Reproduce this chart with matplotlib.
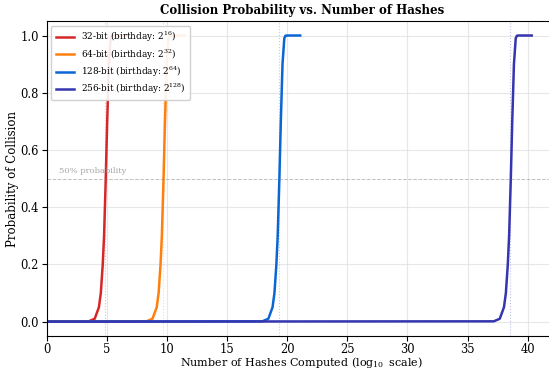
import numpy as np
import matplotlib
matplotlib.use("Agg")
import matplotlib.pyplot as plt

#%% Data (log10 of hash count vs collision probability)
P_LEVELS = [0.0, 0.001, 0.01, 0.05, 0.1, 0.2, 0.3, 0.5, 0.7, 0.9, 0.99, 0.999, 1.0, 1.0]

x_32 = [0.0, 3.47, 3.97, 4.32, 4.48, 4.64, 4.75, 4.89, 5.01, 5.15, 5.30, 5.39, 5.49, 6.62]
x_64 = [0.0, 8.28, 8.78, 9.13, 9.29, 9.45, 9.56, 9.70, 9.82, 9.96, 10.11, 10.20, 10.30, 11.44]
x_128 = [0.0, 17.92, 18.42, 18.77, 18.93, 19.09, 19.20, 19.34, 19.46, 19.60, 19.75, 19.84, 19.94, 21.07]
x_256 = [0.0, 37.18, 37.68, 38.03, 38.19, 38.35, 38.46, 38.60, 38.72, 38.86, 39.01, 39.10, 39.20, 40.34]

labels = [
    r"32-bit (birthday: $2^{16}$)",
    r"64-bit (birthday: $2^{32}$)",
    r"128-bit (birthday: $2^{64}$)",
    r"256-bit (birthday: $2^{128}$)",
]
birthday_log10 = [4.82, 9.63, 19.27, 38.53]
colors = ["#d62728", "#ff7f0e", "#0b66d4", "#3535b0"]

#%% Style
plt.rcParams["font.family"] = "DejaVu Serif"
plt.rcParams["mathtext.fontset"] = "dejavuserif"

fig = plt.figure(figsize=(5.49, 3.72), dpi=100)
ax = fig.add_axes([0.0856, 0.097, 0.928, 0.846])

for xs, lab, c, bd in zip([x_32, x_64, x_128, x_256], labels, colors, birthday_log10):
    ax.plot(xs, P_LEVELS, color=c, lw=1.8, label=lab)
    ax.axvline(bd, color=c, ls=":", lw=0.8, alpha=0.3)

ax.axhline(0.5, color="gray", ls="--", lw=0.7, alpha=0.5)
ax.text(1, 0.52, "50% probability", fontsize=6, color="gray", alpha=0.7)

ax.set_xlim(0, 42.4)
ax.set_ylim(-0.05, 1.05)
ax.grid(True, color="#dddddd", lw=0.8, alpha=0.7)

ax.set_title("Collision Probability vs. Number of Hashes", fontsize=8.5,
             fontweight="bold", pad=5)
ax.set_xlabel(r"Number of Hashes Computed ($\log_{10}$ scale)", fontsize=8)
ax.set_ylabel("Probability of Collision", fontsize=8.5)
ax.xaxis.set_label_coords(0.5, -0.062)
ax.yaxis.set_label_coords(-0.054, 0.5)
ax.tick_params(labelsize=8.3)
ax.tick_params(axis="x", pad=1.5)
ax.tick_params(axis="y", pad=2.5)

ax.legend(loc="upper left", fontsize=6.4, framealpha=0.9, handlelength=2.0,
          labelspacing=0.3, borderpad=0.5)

fig.savefig("out.png", dpi=100)
